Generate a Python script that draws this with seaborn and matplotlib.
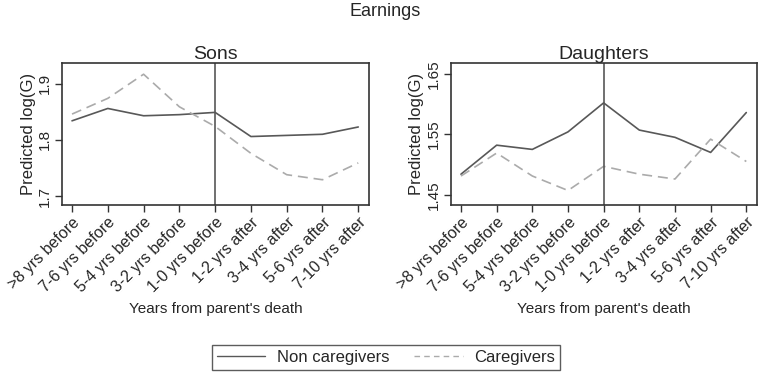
import numpy as np
import pandas as pd
import matplotlib
matplotlib.use('Agg')
import matplotlib.pyplot as plt
from matplotlib.lines import Line2D
import seaborn as sns

# Data
periods = ['>8 yrs before', '7-6 yrs before', '5-4 yrs before', '3-2 yrs before',
           '1-0 yrs before', '1-2 yrs after', '3-4 yrs after', '5-6 yrs after',
           '7-10 yrs after']
sons_non = [1.834, 1.856, 1.843, 1.845, 1.849, 1.806, 1.808, 1.810, 1.823]
sons_care = [1.846, 1.874, 1.917, 1.859, 1.824, 1.776, 1.738, 1.729, 1.759]
dau_non = [1.484, 1.532, 1.525, 1.554, 1.602, 1.557, 1.545, 1.520, 1.586]
dau_care = [1.481, 1.519, 1.481, 1.457, 1.497, 1.484, 1.476, 1.542, 1.505]
groups = ['Non caregivers', 'Caregivers']

sns.set_theme(style='white')
plt.rcParams['font.family'] = ['Liberation Sans', 'DejaVu Sans']

def make_df(non, care):
    return pd.DataFrame({
        'x': list(range(len(periods))) * 2,
        'y': non + care,
        'group': [groups[0]] * len(non) + [groups[1]] * len(care),
    })

fig = plt.figure(figsize=(7.6, 3.74), dpi=100)
ax1 = fig.add_axes([62 / 760, 169 / 374, 307 / 760, 142 / 374])
ax2 = fig.add_axes([451 / 760, 169 / 374, 306 / 760, 142 / 374])

dark = '#585858'
light = '#ababab'
palette = {groups[0]: dark, groups[1]: light}
dashes = {groups[0]: '', groups[1]: (6, 3.5)}

panels = [
    (ax1, sons_non, sons_care, 'Sons', (1.684, 1.937), [1.7, 1.8, 1.9], ['1.7', '1.8', '1.9']),
    (ax2, dau_non, dau_care, 'Daughters', (1.433, 1.668), [1.45, 1.55, 1.65], ['1.45', '1.55', '1.65']),
]

for ax, non, care, title, ylim, yt, ytl in panels:
    df = make_df(non, care)
    sns.lineplot(data=df, x='x', y='y', hue='group', style='group',
                 palette=palette, dashes=dashes, linewidth=1.2,
                 legend=False, ax=ax)
    ax.axvline(4, color=dark, linewidth=1.2)
    ax.set_xlim(-0.28, 8.3)
    ax.set_ylim(*ylim)
    ax.set_xticks(range(len(periods)))
    ax.set_xticklabels(periods, rotation=45, ha='right', rotation_mode='anchor', fontsize=11.5)
    ax.set_yticks(yt)
    ax.set_yticklabels(ytl, rotation=90, va='center', fontsize=11)
    ax.tick_params(axis='both', length=5, width=1, color='#333333', direction='out',
                   bottom=True, left=True, pad=2)
    ax.set_title(title, fontsize=14, pad=3)
    ax.set_xlabel("Years from parent's death", fontsize=11, labelpad=5)
    ax.set_ylabel('Predicted log(G)', fontsize=12, labelpad=2)
    for s in ax.spines.values():
        s.set_color('#333333')
        s.set_linewidth(1.2)

fig.text(385 / 760, 1 - 11 / 374, 'Earnings', ha='center', va='center', fontsize=13)

handles = [Line2D([], [], color=dark, linewidth=1.0),
           Line2D([], [], color=light, linewidth=1.0, linestyle=(0, (4, 3)))]
leg = fig.legend(handles, groups, loc='center', bbox_to_anchor=(386 / 760, 1 - 357.5 / 374),
                 ncol=2, frameon=True, fancybox=False, fontsize=12, handlelength=2.9,
                 handletextpad=0.7, columnspacing=1.5, borderpad=0.3)
leg.get_frame().set_edgecolor('#333333')
leg.get_frame().set_linewidth(1.0)

plt.savefig('out.png', dpi=100)
plt.close()
